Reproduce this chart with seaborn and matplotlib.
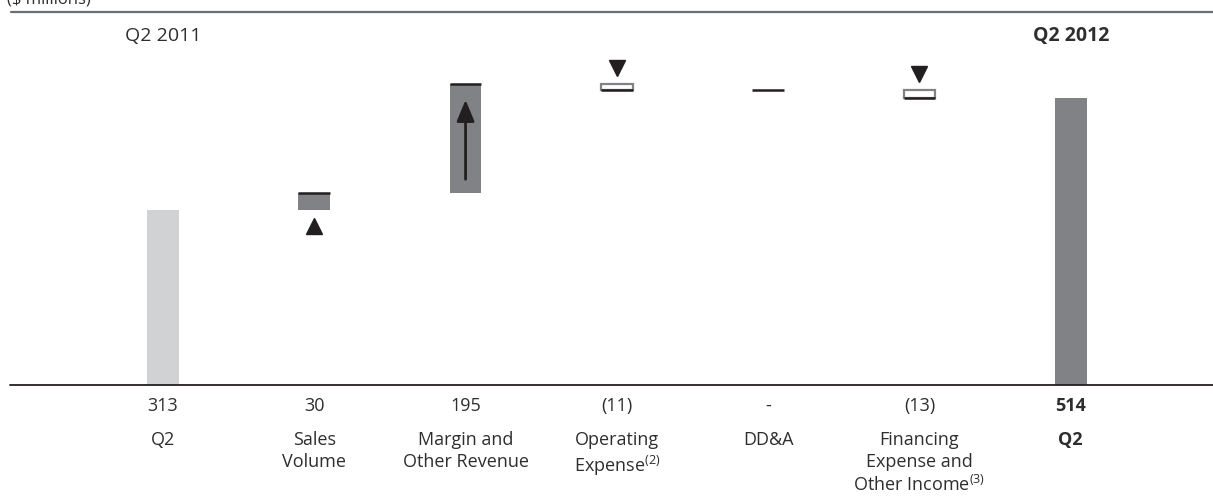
"""
Q2 2011 -> Q2 2012 bridge (waterfall) chart.
"""
import numpy as np
import pandas as pd
import matplotlib
matplotlib.use('Agg')
import matplotlib.pyplot as plt
import seaborn as sns

# data
steps = ['Q2 2011', 'Sales Volume', 'Margin and Other Revenue', 'Operating Expense',
         'DD&A', 'Financing Expense and Other Income', 'Q2 2012']
changes = [313, 30, 195, -11, 0, -13, 514]
is_total = [True, False, False, False, False, False, True]
value_labels = ['313', '30', '195', '(11)', '-', '(13)', '514']
step_labels = ['Q2', 'Sales\nVolume', 'Margin and\nOther Revenue', 'Operating\nExpense$^{(2)}$',
               'DD&A', 'Financing\nExpense and\nOther Income$^{(3)}$', 'Q2']
period_labels = ['Q2 2011', 'Q2 2012']

sns.set_theme(style='white')
plt.rcParams['font.family'] = ['Open Sans', 'DejaVu Sans']
plt.rcParams['mathtext.fontset'] = 'custom'
plt.rcParams['mathtext.rm'] = 'Open Sans'
plt.rcParams['mathtext.default'] = 'regular'

TEXT = '#2e2e2e'
INK = '#231f20'
GREY = '#808285'
LIGHT = '#d1d2d4'

# waterfall levels
start, end = [], []
level = 0
for c, tot in zip(changes, is_total):
    if tot:
        start.append(0)
        end.append(c)
        level = c
    else:
        start.append(level)
        level += c
        end.append(level)
df = pd.DataFrame({'step': steps, 'start': start, 'end': end, 'change': changes})
df['bottom'] = df[['start', 'end']].min(axis=1)
df['height'] = (df['end'] - df['start']).abs()

fig = plt.figure(figsize=(12.13, 4.97), dpi=100)
ax = fig.add_axes([0, 0, 1, 1])

W = 0.21
sns.barplot(data=df, x='step', y='height', order=steps, width=W, color=GREY,
            saturation=1, ax=ax)

for i, patch in enumerate(ax.patches):
    patch.set_y(df['bottom'][i])
    if i == 0:
        patch.set_facecolor(LIGHT)
        patch.set_edgecolor('none')
    elif changes[i] < 0 and not is_total[i]:
        # decreases are drawn as hollow boxes
        patch.set_facecolor('white')
        patch.set_edgecolor(GREY)
        patch.set_linewidth(1.6)
    else:
        patch.set_facecolor(GREY)
        patch.set_edgecolor('none')

# end-level marker lines and direction symbols
off = 29
for i in range(len(steps)):
    if is_total[i]:
        continue
    ax.hlines(df['end'][i], i - W / 2, i + W / 2, color=INK, lw=1.8, zorder=4)
    c = changes[i]
    if c > 100:
        ax.annotate('', xy=(i, df['end'][i] - 28), xytext=(i, df['start'][i] + 25),
                    arrowprops=dict(arrowstyle='-|>,head_length=0.65,head_width=0.27',
                                    mutation_scale=20, lw=2.0, color=INK,
                                    shrinkA=0, shrinkB=0), zorder=5)
    elif c > 0:
        ax.plot(i, df['start'][i] - off, marker='^', ms=12, color=INK, ls='none')
    elif c < 0:
        ax.plot(i, df['start'][i] + off, marker='v', ms=12, color=INK, ls='none')

# baseline and top rule
ax.axhline(0, xmin=0.008, xmax=1, color=INK, lw=1.3, zorder=3)
ax.axhline(667, xmin=0.009, xmax=1, color='#6d6e71', lw=1.6)

# texts
ax.text(-1.03, 683, '($ millions)', fontsize=12, color=TEXT, ha='left', va='baseline')
ax.text(0, 624, period_labels[0], fontsize=14, color=TEXT, ha='center', va='center')
ax.text(6, 624, period_labels[1], fontsize=14, color=TEXT, ha='center', va='center',
        fontweight='bold')
for i in range(len(steps)):
    wt = 'bold' if i == len(steps) - 1 else 'normal'
    ax.text(i, -37.6, value_labels[i], fontsize=13, color=TEXT, ha='center',
            va='center', fontweight=wt)
    ax.text(i, -83, step_labels[i], fontsize=13, color=TEXT, ha='center', va='top',
            linespacing=1.25, fontweight=wt)

ax.set_xlim(-1.077, 6.94)
ax.set_ylim(-200.4, 688.7)
ax.axis('off')

fig.savefig('out.png', dpi=100)
